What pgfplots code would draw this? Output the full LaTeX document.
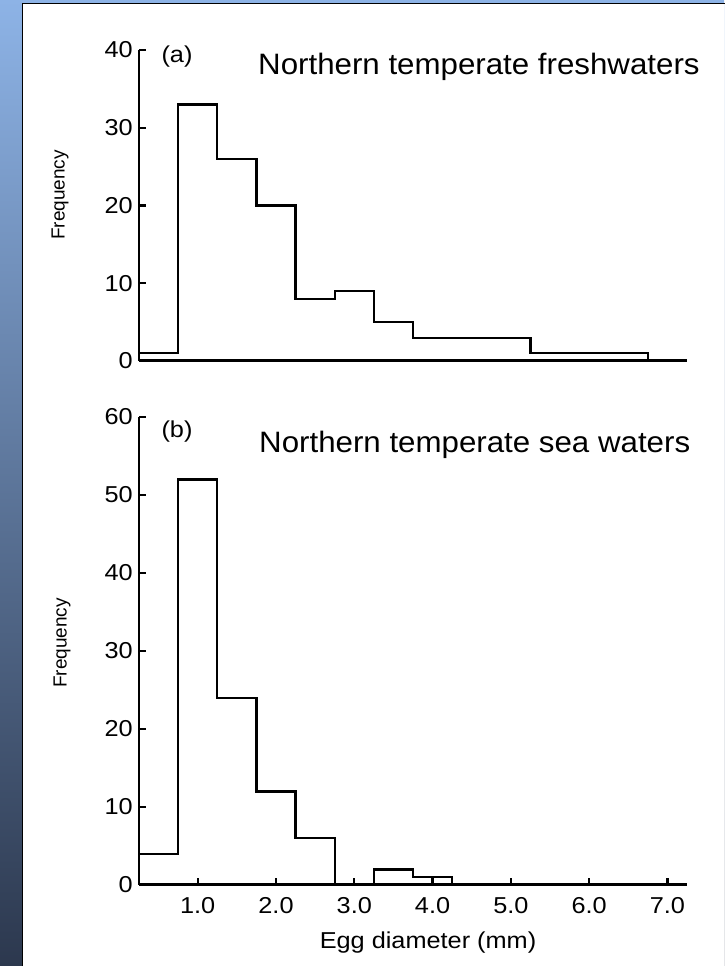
\documentclass[border=0pt]{standalone}
\usepackage{fontspec}
\setmainfont{Liberation Sans}
\newfontfamily\figfont{Liberation Sans}[FakeStretch=1.1]
\newfontfamily\titlefont{Liberation Sans}[FakeStretch=1.06]
\usepackage{pgfplots}
\pgfplotsset{compat=1.18}

\definecolor{slidetop}{RGB}{141,179,230}
\definecolor{slidemid}{RGB}{96,120,162}
\definecolor{slidebot}{RGB}{44,56,78}

% histogram outlines, bins 0.5 mm wide starting at 0.25 mm
\pgfplotstableread{
x    f
0.25 1
0.75 33
1.25 26
1.75 20
2.25 8
2.75 9
3.25 5
3.75 3
4.25 3
4.75 3
5.25 1
5.75 1
6.25 1
6.75 0
7.25 0
}\freshdata
\pgfplotstableread{
x    f
0.25 4
0.75 52
1.25 24
1.75 12
2.25 6
2.75 0
3.25 2
3.75 1
4.25 0
4.75 0
5.25 0
5.75 0
6.25 0
6.75 0
7.25 0
}\seadata

\pgfplotsset{
  histo/.style={
    scale only axis,
    width=548pt,
    xmin=0.25, xmax=7.25, ymin=0,
    enlargelimits=false,
    axis x line=bottom, axis y line=left,
    x axis line style={-, line width=3pt},
    y axis line style={-, line width=2.6pt},
    tick align=inside,
    major tick length=7pt,
    tick style={line width=2.4pt, black},
    ytick pos=left, xtick pos=bottom,
    /pgf/number format/assume math mode=true,
    ticklabel style={font=\figfont\fontsize{23}{23}\selectfont},
    yticklabel style={anchor=east, inner sep=0pt, xshift=-6pt},
    xticklabel style={anchor=north, inner sep=0pt, yshift=-12pt},
  },
}

\begin{document}
\begin{tikzpicture}
\path[use as bounding box] (0pt,0pt) rectangle (724pt,966pt);
\shade[top color=slidetop, middle color=slidemid, bottom color=slidebot]
  (0pt,0pt) rectangle (724pt,966pt);
\fill[white] (22.5pt,0pt) rectangle (724pt,962.5pt);
\draw[black, line width=1.6pt] (22.5pt,-1pt) -- (22.5pt,962.5pt) -- (725pt,962.5pt);

% (a) freshwaters
\begin{axis}[histo,
  at={(139pt,605pt)}, anchor=south west,
  height=311pt, ymax=40,
  ytick={0,10,20,30,40}, yticklabels={0,10,20,30,40},
  xtick=\empty,
]
\addplot[const plot, black, line width=2.3pt] table[x=x, y=f] {\freshdata};
\end{axis}

% (b) sea waters
\begin{axis}[histo,
  at={(139pt,81pt)}, anchor=south west,
  height=468pt, ymax=60,
  ytick={0,10,20,30,40,50,60}, yticklabels={0,10,20,30,40,50,60},
  xtick={1,2,3,4,5,6,7},
  xticklabels={1.0,2.0,3.0,4.0,5.0,6.0,7.0},
]
\addplot[const plot, black, line width=2.3pt] table[x=x, y=f] {\seadata};
\end{axis}

\node[font=\figfont\fontsize{23}{23}\selectfont, inner sep=0pt] at (177pt,909pt) {(a)};
\node[font=\figfont\fontsize{23}{23}\selectfont, inner sep=0pt] at (177pt,534pt) {(b)};
\node[font=\titlefont\fontsize{29.5}{30}\selectfont, inner sep=0pt, anchor=base west]
  at (258pt,891pt) {Northern temperate freshwaters};
\node[font=\titlefont\fontsize{29.5}{30}\selectfont, inner sep=0pt, anchor=base west]
  at (259pt,513pt) {Northern temperate sea waters};
\node[rotate=90, inner sep=0pt, font=\fontsize{19}{19}\selectfont]
  at (60pt,771pt) {Frequency};
\node[rotate=90, inner sep=0pt, font=\fontsize{19}{19}\selectfont]
  at (62pt,323pt) {Frequency};
\node[font=\figfont\fontsize{23}{23}\selectfont, inner sep=0pt]
  at (428pt,23pt) {Egg diameter (mm)};
\end{tikzpicture}
\end{document}
